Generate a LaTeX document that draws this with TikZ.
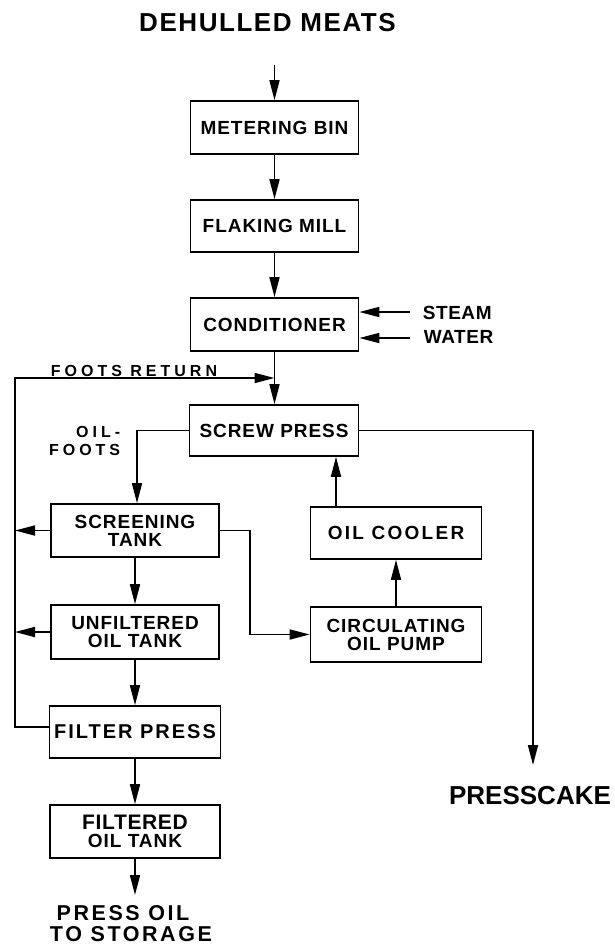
\documentclass[tikz,border=0pt]{standalone}
\usepackage{fontspec}
\setmainfont{Liberation Sans}
\usetikzlibrary{arrows.meta}
\begin{document}
\begin{tikzpicture}[x=1pt,y=-1pt,line width=1.7pt,
  box/.style={draw, inner sep=0pt, align=center, minimum width=168pt, minimum height=53pt,
    font=\bfseries\fontsize{19}{18}\selectfont\addfontfeatures{LetterSpace=5}},
  arr/.style={-{Triangle[length=20pt,width=10pt]}},
  lbl/.style={inner sep=0pt, font=\bfseries\fontsize{19}{18}\selectfont\addfontfeatures{LetterSpace=3}},
  small/.style={inner sep=0pt, font=\bfseries\fontsize{16}{16}\selectfont\addfontfeatures{LetterSpace=25}},
  big/.style={inner sep=0pt, font=\bfseries\fontsize{21.5}{20}\selectfont\addfontfeatures{LetterSpace=12}}
]
\useasboundingbox (0,0) rectangle (615,946);

% title
\node[inner sep=0pt, font=\bfseries\fontsize{26}{26}\selectfont\addfontfeatures{LetterSpace=6}] (title) at (267.5,23) {DEHULLED MEATS};

% main column
\node[box] (meter) at (274.5,127.5) {METERING BIN};
\node[box, minimum height=52pt] (flake) at (274.5,226) {FLAKING MILL};
\node[box] (cond) at (274.5,324.5) {CONDITIONER};
\node[box, minimum width=169pt, minimum height=51pt] (screw) at (274,430.5) {SCREW PRESS};

% left column
\node[box] (screen) at (135,530.5) {SCREENING\\TANK};
\node[box, minimum height=54pt] (unfilt) at (135,632) {UNFILTERED\\OIL TANK};
\node[box, minimum width=171pt, minimum height=52pt] (filter) at (135,732) {\fontsize{20}{20}\selectfont\addfontfeatures{LetterSpace=10}FILTER PRESS};
\node[box, minimum width=170pt] (filtered) at (135,831.5) {\fontsize{21}{19}\selectfont\addfontfeatures{LetterSpace=3}FILTERED\\OIL TANK};

% right column
\node[box, minimum width=171pt, minimum height=52pt] (cooler) at (396,533) {\addfontfeatures{LetterSpace=12}OIL COOLER};
\node[box, minimum width=171pt, minimum height=55pt] (pump) at (396,634.5) {CIRCULATING\\OIL PUMP};

% labels
\node[lbl, anchor=west] (steam) at (422,313) {STEAM};
\node[lbl, anchor=west] (water) at (423,337) {WATER};
\node[small, anchor=base west] (foots) at (50,376) {FOOTS RETURN};
\node[small, anchor=base east] (oil1) at (121,437) {OIL-};
\node[small, anchor=base east] (oil2) at (121,455) {FOOTS};
\node[big, anchor=base] (po1) at (123,920) {PRESS OIL};
\node[big, anchor=base] (po2) at (131,941) {TO STORAGE};
\node[inner sep=0pt, anchor=base, font=\bfseries\fontsize{26}{26}\selectfont] (cake) at (530,804) {PRESSCAKE};

% coordinates
\coordinate (in) at (274.5,65);
\coordinate (st) at (410,312);
\coordinate (wa) at (410,338);
\coordinate (fr) at (274.5,378);
\coordinate (L) at (15,0);
\coordinate (cakeend) at (533,765);
\coordinate (out) at (135,895);

% connectors
\draw[arr] (in) -- (meter.north);
\draw[arr] (meter) -- (flake);
\draw[arr] (flake) -- (cond);
\draw[arr] (cond.south) -- (cond.south |- screw.north);
\draw[arr] (st) -- (st -| cond.east);
\draw[arr] (wa) -- (wa -| cond.east);
\draw[arr] ([yshift=5pt]filter.west) -| (L |- fr) -- (fr);
\draw[arr] (screw.west) -| ([xshift=2pt]screen.north);
\draw[arr] (screw.east) -| (cakeend);
\draw[arr] (screen.west) -- (screen.west -| L);
\draw[arr] (unfilt.west) -- (unfilt.west -| L);
\draw[arr] (screen) -- (unfilt);
\draw[arr] (unfilt) -- (filter);
\draw[arr] (filter) -- (filtered);
\draw[arr] (filtered.south) -- (out);
\draw[arr] (screen.east) -- ++(30,0) |- (pump.west);
\draw[arr] (pump) -- (cooler);
\draw[arr] ([xshift=-60pt]cooler.north) -- ([xshift=-60pt]cooler.north |- screw.south);
\end{tikzpicture}
\end{document}
